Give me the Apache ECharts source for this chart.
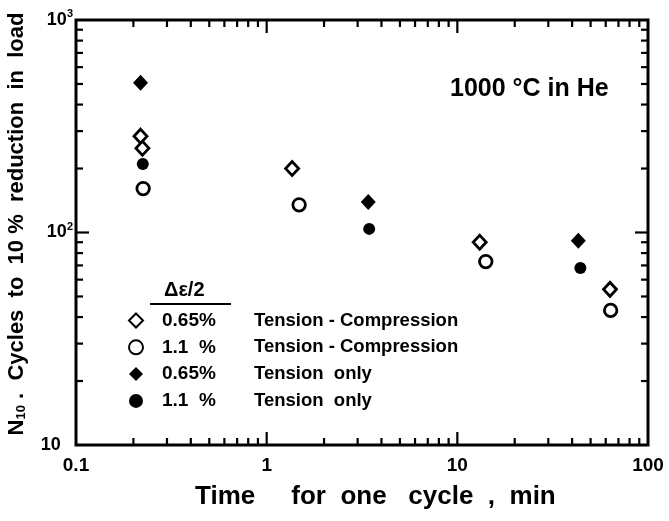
<!DOCTYPE html>
<html>
<head>
<meta charset="utf-8">
<script src="https://cdn.jsdelivr.net/npm/echarts@6/dist/echarts.min.js"></script>
<style>
  html, body { margin: 0; padding: 0; background: #fff; }
  #chart { width: 669px; height: 521px; }
</style>
</head>
<body>
<div id="chart"></div>
<script>
// Cycle time (min) vs. N10 cycles to 10 % load drop, 1000 °C in He
const tcLowTime = [0.218, 0.223, 1.36, 13.1, 63.2];
const tcLowCycles = [284, 249, 200, 90, 54];
const tcHighTime = [0.225, 1.48, 14.1, 63.7];
const tcHighCycles = [161, 135, 73, 43];
const tLowTime = [0.218, 3.41, 43.1];
const tLowCycles = [507, 139, 91.5];
const tHighTime = [0.224, 3.45, 44.2];
const tHighCycles = [210, 104, 68];

const seriesNames = ['0.65% Tension-Compression', '1.1% Tension-Compression', '0.65% Tension only', '1.1% Tension only'];
const strainLabels = ['0.65%', '1.1  %', '0.65%', '1.1  %'];
const modeLabels = ['Tension - Compression', 'Tension - Compression', 'Tension  only', 'Tension  only'];

const xTickValues = [0.1, 1, 10, 100];
const xTickLabels = ['0.1', '1', '10', '100'];
const yTickValues = [10, 100, 1000];
const yTickExponents = ['', '2', '3'];

const FONT = '"Liberation Sans", Arial, sans-serif';

function pairs(xs, ys) { return xs.map((x, i) => [x, ys[i]]); }

// tick marks: major at decades, minor at 2..9 within each decade
function tickList(lo, hi, majorLen, minorLen) {
  const out = [];
  for (let d = lo; d <= hi * 1.0001; d *= 10) {
    out.push({ v: d, len: majorLen });
    if (d < hi * 0.999) for (let m = 2; m <= 9; m++) out.push({ v: d * m, len: minorLen });
  }
  return out;
}
const xTicks = tickList(0.1, 100, 13, 7).filter(t => t.v > 0.1 && t.v < 100);
const yTicks = tickList(10, 1000, 13, 7).filter(t => t.v > 10 && t.v < 1000);

const tickStyle = { stroke: '#000', lineWidth: 2.2 };
function xTickItem(params, api) {
  const cs = params.coordSys;
  const x = api.coord([api.value(0), api.value(1)])[0];
  const len = api.value(2);
  const b = cs.y + cs.height, t = cs.y;
  return { type: 'group', children: [
    { type: 'line', shape: { x1: x, y1: b, x2: x, y2: b - len }, style: tickStyle },
    { type: 'line', shape: { x1: x, y1: t, x2: x, y2: t + len }, style: tickStyle }
  ]};
}
function yTickItem(params, api) {
  const cs = params.coordSys;
  const y = api.coord([api.value(0), api.value(1)])[1];
  const len = api.value(2);
  const l = cs.x, r = cs.x + cs.width;
  return { type: 'group', children: [
    { type: 'line', shape: { x1: l, y1: y, x2: l + len, y2: y }, style: tickStyle },
    { type: 'line', shape: { x1: r, y1: y, x2: r - len, y2: y }, style: tickStyle }
  ]};
}

const openStyle = { color: '#fff', borderColor: '#000', borderWidth: 2.8, opacity: 1 };
const solidStyle = { color: '#000', borderWidth: 0, opacity: 1 };

const chart = echarts.init(document.getElementById('chart'), null, { renderer: 'canvas' });
chart.setOption({
  animation: false,
  backgroundColor: '#fff',
  grid: { left: 76, top: 20, width: 572, height: 425, show: true, borderColor: '#000', borderWidth: 3, backgroundColor: 'transparent' },
  xAxis: {
    type: 'log', logBase: 10, min: 0.1, max: 100,
    axisLine: { show: false }, axisTick: { show: false }, splitLine: { show: false },
    axisLabel: {
      margin: 11, color: '#000', fontSize: 19, fontWeight: 'bold', fontFamily: FONT,
      formatter: v => { const i = xTickValues.findIndex(t => Math.abs(t - v) / t < 1e-6); return i >= 0 ? xTickLabels[i] : ''; }
    }
  },
  yAxis: {
    type: 'log', logBase: 10, min: 10, max: 1000,
    axisLine: { show: false }, axisTick: { show: false }, splitLine: { show: false },
    axisLabel: {
      margin: 3, color: '#000', fontFamily: FONT,
      formatter: v => {
        const i = yTickValues.findIndex(t => Math.abs(t - v) / t < 1e-6);
        if (i < 0) return '';
        return yTickExponents[i] ? '{b|10}{s|' + yTickExponents[i] + '}' : '{b|10}{s|    }';
      },
      rich: {
        b: { fontSize: 18, fontWeight: 'bold', fontFamily: FONT, color: '#000', lineHeight: 18 },
        s: { fontSize: 11, fontWeight: 'bold', fontFamily: FONT, color: '#000', lineHeight: 11, padding: [0, 0, 12, 0] }
      }
    }
  },
  legend: {
    orient: 'vertical', left: 123, top: 306,
    itemWidth: 14, itemHeight: 14, itemGap: 7.8,
    selectedMode: false,
    data: seriesNames,
    formatter: name => { const i = seriesNames.indexOf(name); return '{s|' + strainLabels[i] + '}{m|' + modeLabels[i] + '}'; },
    textStyle: {
      color: '#000', fontSize: 18, fontWeight: 'bold', fontFamily: FONT, lineHeight: 14,
      rich: {
        s: { width: 92, padding: [0, 0, 0, 14], fontSize: 19, fontWeight: 'bold', fontFamily: FONT, color: '#000', lineHeight: 14 },
        m: { fontSize: 18.5, fontWeight: 'bold', fontFamily: FONT, color: '#000', lineHeight: 14 }
      }
    }
  },
  graphic: [
    { type: 'text', left: 450, top: 77, style: { text: '1000 °C in He', font: 'bold 25px ' + FONT, fill: '#000' } },
    { type: 'text', left: 164, top: 280, style: { text: 'Δε/2', font: 'bold 20px ' + FONT, fill: '#000' } },
    { type: 'line', shape: { x1: 150, y1: 304, x2: 231, y2: 304 }, style: { stroke: '#000', lineWidth: 2.2 } },
    { type: 'text', left: 195, top: 484, style: { text: 'Time     for  one   cycle  ,  min', font: 'bold 26px ' + FONT, fill: '#000' } },
    { type: 'text', x: 17, y: 224, rotation: Math.PI / 2,
      style: {
        text: '{n|N}{sub|10}{n| .  Cycles  to  10 %  reduction  in  load}',
        textAlign: 'center', textVerticalAlign: 'middle',
        rich: {
          n: { font: 'bold 22px ' + FONT, fill: '#000' },
          sub: { font: 'bold 13px ' + FONT, fill: '#000', padding: [9, 0, 0, 0] }
        }
      } }
  ],
  series: [
    { name: seriesNames[0], type: 'scatter', symbol: 'diamond', symbolSize: [13, 14], data: pairs(tcLowTime, tcLowCycles), itemStyle: openStyle, z: 10 },
    { name: seriesNames[1], type: 'scatter', symbol: 'circle', symbolSize: 12.5, data: pairs(tcHighTime, tcHighCycles), itemStyle: openStyle, z: 10 },
    { name: seriesNames[2], type: 'scatter', symbol: 'diamond', symbolSize: [15, 16], data: pairs(tLowTime, tLowCycles), itemStyle: solidStyle, z: 10 },
    { name: seriesNames[3], type: 'scatter', symbol: 'circle', symbolSize: 12, data: pairs(tHighTime, tHighCycles), itemStyle: solidStyle, z: 10 },
    { type: 'custom', silent: true, z: 5, clip: false, encode: { x: 0, y: 1 }, data: xTicks.map(t => [t.v, 10, t.len]), renderItem: xTickItem },
    { type: 'custom', silent: true, z: 5, clip: false, encode: { x: 0, y: 1 }, data: yTicks.map(t => [0.1, t.v, t.len]), renderItem: yTickItem }
  ]
});
</script>
</body>
</html>
